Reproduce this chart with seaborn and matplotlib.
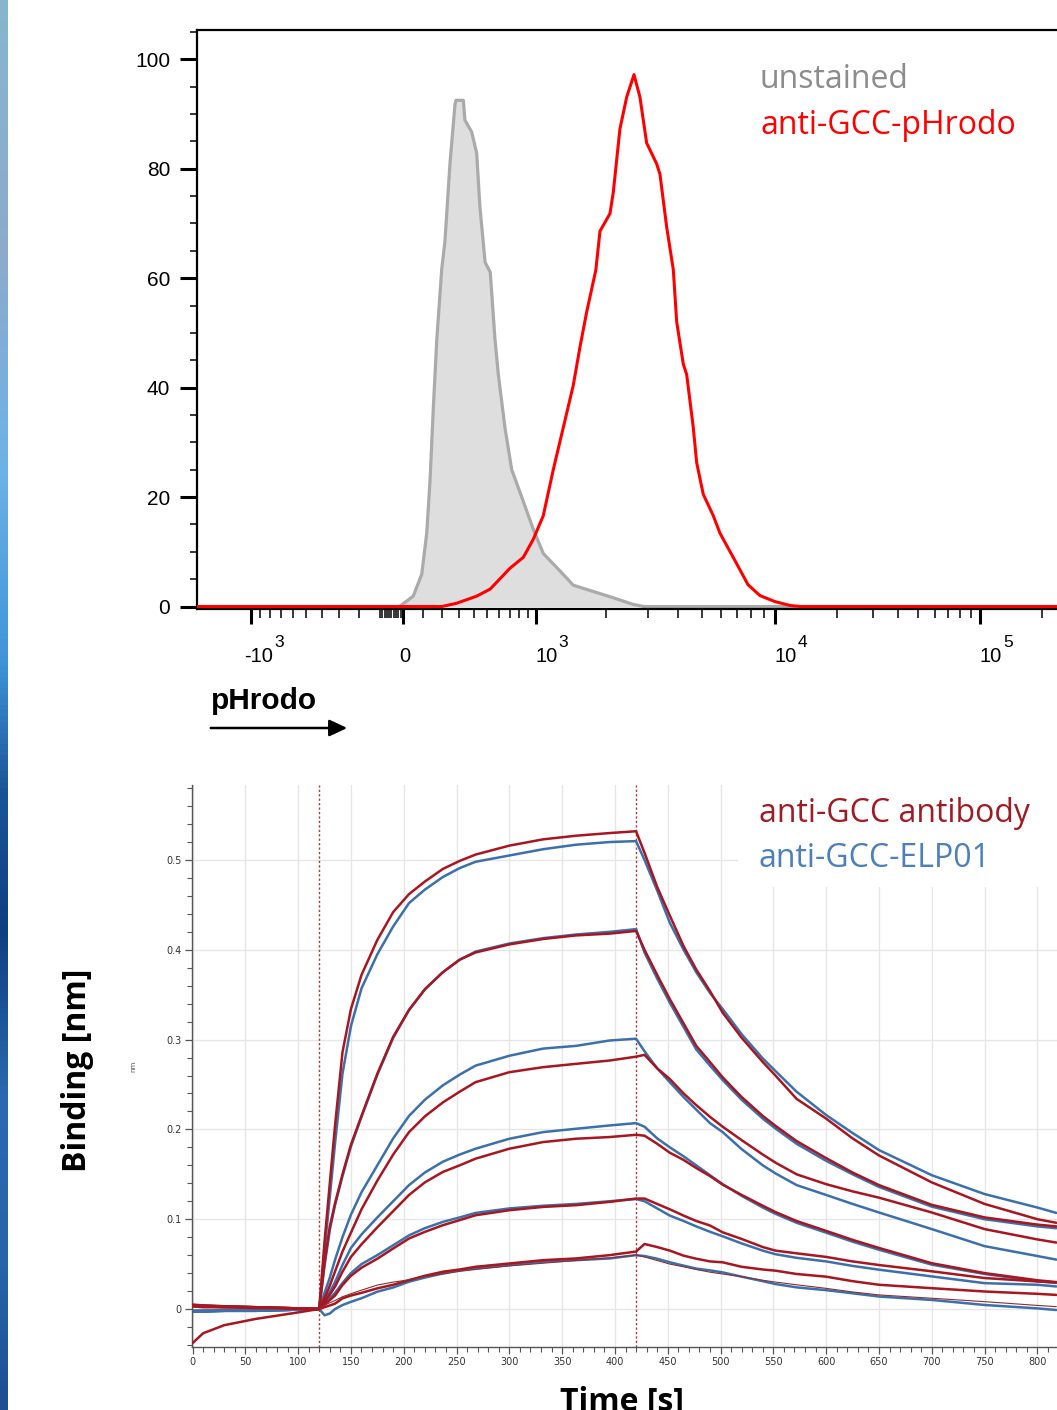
import numpy as np
import pandas as pd
import matplotlib
matplotlib.use("Agg")
import matplotlib.pyplot as plt
import seaborn as sns
from matplotlib import transforms
from matplotlib.colors import LinearSegmentedColormap
from matplotlib.patches import FancyArrowPatch, Rectangle
from matplotlib.ticker import FixedLocator, MultipleLocator, NullFormatter, FuncFormatter

sns.set_theme(style="ticks")
plt.rcParams['font.family'] = ['Liberation Sans', 'DejaVu Sans']

# ---------------- DATA: flow cytometry histogram (pHrodo channel, % of max) ----------------
unstained_fl = [-5000, -15, 51, 94, 120, 137, 154, 173, 200, 218, 247, 277, 283, 329, 339,
                385, 420, 443, 483, 524, 564, 593, 654, 721, 848, 971, 1082, 1279, 1457,
                1816, 2149, 2595, 2884, 300000]
unstained_pct = [0, 0, 1.9, 5.9, 13.5, 23.1, 36.0, 48.8, 61.6, 66.7, 80.9, 91.8, 92.5, 92.5, 88.9,
                 86.7, 82.8, 73.2, 62.9, 61.1, 48.8, 42.4, 32.7, 25.0, 19.2, 14.1, 9.7, 6.5, 3.9,
                 2.6, 1.6, 0.4, 0, 0]
phrodo_fl = [-5000, 200, 287, 420, 524, 703, 848, 971, 1082, 1196, 1343, 1457, 1556, 1661, 1816,
             1890, 2081, 2149, 2291, 2444, 2621, 2774, 2958, 3254, 3358, 3581, 3812, 3938, 4193,
             4329, 4610, 4760, 5068, 5573, 5937, 6845, 7741, 8672, 10000, 11840, 13240, 300000]
phrodo_pct = [0, 0, 0.6, 1.9, 3.2, 7.0, 9.0, 12.3, 16.6, 25.0, 34.0, 40.4, 47.4, 53.8, 61.5,
              68.6, 71.8, 75.7, 87.3, 93.1, 97.2, 93.1, 84.7, 80.9, 79.0, 69.3, 61.6, 52.0, 44.3,
              42.4, 32.7, 26.3, 20.5, 16.6, 13.4, 8.4, 4.0, 2.0, 0.9, 0.2, 0, 0]
hist_yticks = [0, 20, 40, 60, 80, 100]
hist_xticks_major = [-1000, 0, 1000, 10000, 100000]
hist_xtick_base = ["-10", "0", "10", "10", "10"]
hist_xtick_exp = ["3", "", "3", "4", "5"]
hist_legend = ["unstained", "anti-GCC-pHrodo"]

# ---------------- DATA: BLI sensorgram (binding in nm) ----------------
time_s = [0, 10, 30, 60, 90, 120,
          125, 130, 135, 142, 150, 160, 175, 190, 205, 220, 237, 253, 268, 300, 332, 363, 395, 420,
          428, 440, 452, 465, 477, 490, 502, 520, 540, 552, 572, 600, 625, 650, 700, 750, 800, 818]
ab_1 = [0.003, 0.002, 0.002, 0.001, 0.001, 0.0,
        0.075, 0.14, 0.205, 0.286, 0.334, 0.372, 0.411, 0.442, 0.462, 0.476, 0.49, 0.499, 0.506, 0.516, 0.523, 0.527, 0.53, 0.532,
        0.508, 0.470, 0.438, 0.404, 0.378, 0.354, 0.330, 0.302, 0.275, 0.260, 0.234, 0.212, 0.19, 0.171, 0.141, 0.117, 0.100, 0.096]
elp_1 = [-0.002, -0.002, -0.002, -0.002, -0.001, 0.0,
         0.065, 0.125, 0.185, 0.262, 0.315, 0.357, 0.395, 0.426, 0.452, 0.467, 0.481, 0.491, 0.498, 0.505, 0.512, 0.517, 0.520, 0.521,
         0.500, 0.466, 0.430, 0.400, 0.375, 0.352, 0.334, 0.306, 0.279, 0.265, 0.242, 0.216, 0.196, 0.177, 0.149, 0.128, 0.113, 0.107]
ab_2 = [0.004, 0.004, 0.003, 0.002, 0.001, 0.0,
        0.052, 0.092, 0.118, 0.15, 0.183, 0.215, 0.262, 0.303, 0.333, 0.356, 0.375, 0.389, 0.397, 0.406, 0.412, 0.416, 0.418, 0.421,
        0.400, 0.372, 0.345, 0.318, 0.293, 0.275, 0.258, 0.236, 0.215, 0.204, 0.187, 0.168, 0.152, 0.138, 0.116, 0.102, 0.094, 0.092]
elp_2 = [-0.002, -0.002, -0.002, -0.001, -0.001, 0.0,
         0.048, 0.088, 0.116, 0.148, 0.181, 0.214, 0.261, 0.302, 0.333, 0.356, 0.375, 0.389, 0.398, 0.407, 0.413, 0.417, 0.420, 0.423,
         0.397, 0.368, 0.341, 0.314, 0.289, 0.271, 0.255, 0.233, 0.212, 0.201, 0.184, 0.165, 0.150, 0.136, 0.114, 0.100, 0.092, 0.090]
ab_3 = [0.003, 0.003, 0.002, 0.002, 0.001, 0.0,
        0.012, 0.026, 0.042, 0.064, 0.085, 0.111, 0.143, 0.172, 0.197, 0.2145, 0.230, 0.242, 0.2526, 0.2637, 0.2693, 0.273, 0.2767, 0.281,
        0.283, 0.268, 0.256, 0.240, 0.227, 0.214, 0.203, 0.188, 0.172, 0.163, 0.150, 0.139, 0.131, 0.124, 0.1075, 0.089, 0.0775, 0.074]
elp_3 = [-0.003, -0.002, -0.002, -0.002, -0.001, 0.0,
         0.018, 0.035, 0.055, 0.080, 0.105, 0.130, 0.160, 0.190, 0.215, 0.233, 0.249, 0.261, 0.271, 0.282, 0.290, 0.293, 0.299, 0.301,
         0.287, 0.268, 0.2525, 0.236, 0.222, 0.207, 0.197, 0.178, 0.160, 0.151, 0.138, 0.127, 0.117, 0.1075, 0.089, 0.070, 0.059, 0.055]
ab_4 = [-0.038, -0.027, -0.018, -0.011, -0.0056, 0.0,
        0.008, 0.016, 0.025, 0.0415, 0.058, 0.072, 0.091, 0.109, 0.127, 0.141, 0.1526, 0.160, 0.1674, 0.1785, 0.1859, 0.1896, 0.1915, 0.194,
        0.193, 0.184, 0.174, 0.166, 0.157, 0.148, 0.1385, 0.127, 0.115, 0.108, 0.098, 0.087, 0.077, 0.068, 0.051, 0.040, 0.032, 0.030]
elp_4 = [-0.003, -0.003, -0.002, -0.002, -0.001, 0.0,
         0.010, 0.019, 0.030, 0.049, 0.068, 0.083, 0.102, 0.120, 0.138, 0.152, 0.164, 0.172, 0.1785, 0.1896, 0.197, 0.2007, 0.2044, 0.207,
         0.203, 0.190, 0.180, 0.170, 0.160, 0.149, 0.139, 0.126, 0.113, 0.106, 0.096, 0.085, 0.075, 0.066, 0.0494, 0.039, 0.031, 0.029]
ab_5 = [0.004, 0.003, 0.003, 0.002, 0.001, 0.0,
        0.005, 0.010, 0.015, 0.0267, 0.037, 0.046, 0.056, 0.0674, 0.0785, 0.0859, 0.0933, 0.099, 0.1044, 0.110, 0.1137, 0.1156, 0.1193, 0.123,
        0.123, 0.117, 0.111, 0.104, 0.098, 0.093, 0.0854, 0.078, 0.069, 0.065, 0.062, 0.058, 0.053, 0.049, 0.042, 0.0345, 0.0307, 0.0296]
elp_5 = [-0.002, -0.002, -0.001, -0.001, 0.0, 0.0,
         0.006, 0.012, 0.018, 0.029, 0.040, 0.050, 0.060, 0.071, 0.082, 0.090, 0.097, 0.102, 0.107, 0.112, 0.115, 0.117, 0.120, 0.1225,
         0.120, 0.112, 0.104, 0.098, 0.092, 0.086, 0.081, 0.073, 0.065, 0.061, 0.057, 0.053, 0.048, 0.0438, 0.0363, 0.0288, 0.027, 0.0251]
ab_6 = [0.005, 0.004, 0.003, 0.002, 0.001, 0.0,
        0.002, 0.004, 0.006, 0.0119, 0.015, 0.018, 0.023, 0.027, 0.0322, 0.037, 0.0415, 0.044, 0.047, 0.0507, 0.0544, 0.0563, 0.060, 0.064,
        0.0724, 0.069, 0.065, 0.0594, 0.056, 0.053, 0.052, 0.047, 0.044, 0.0427, 0.039, 0.036, 0.031, 0.027, 0.0232, 0.0195, 0.0169, 0.0157]
elp_6 = [-0.003, -0.003, -0.002, -0.002, -0.001, 0.0,
         -0.007, -0.005, 0.0, 0.0044, 0.008, 0.012, 0.0193, 0.024, 0.0304, 0.035, 0.0396, 0.043, 0.0452, 0.0489, 0.0526, 0.0544, 0.0563, 0.060,
         0.059, 0.056, 0.052, 0.0483, 0.045, 0.043, 0.0408, 0.036, 0.031, 0.0278, 0.0241, 0.021, 0.0175, 0.0139, 0.0101, 0.0045, 0.0007, -0.0011]
fit_time = time_s[5:]
fit_6 = [0.0,
         0.004, 0.007, 0.0095, 0.0137, 0.017, 0.021, 0.0267, 0.030, 0.0325, 0.036, 0.039, 0.042, 0.044, 0.048, 0.051, 0.054, 0.057, 0.060,
         0.058, 0.054, 0.050, 0.047, 0.044, 0.041, 0.039, 0.036, 0.032, 0.030, 0.027, 0.023, 0.019, 0.0157, 0.012, 0.0082, 0.004, 0.0026]
phase_marks_s = [120, 420]
bli_legend = ["anti-GCC antibody", "anti-GCC-ELP01"]

# ---------------- styles ----------------
W_PX, H_PX = 1057, 1410
RED_AB = "#a8161f"
BLUE_ELP = "#3b70ad"
TICK_FONT = ['Liberation Sans Narrow', 'Liberation Sans', 'DejaVu Sans']
LEG_FONT = ['Open Sans', 'DejaVu Sans']


def fx(px):
    return px / W_PX


def fy(py):
    return 1 - py / H_PX


# biexponential-like display scale for the fluorescence axis
_W = 400.0
_anch_v = np.arcsinh(np.array([-1e4, -1e3, 0.0, 1e3, 1e4, 1e5, 1e6]) / _W)
_anch_p = np.array([42.0, 251.0, 403.0, 535.5, 775.0, 980.0, 1185.0])


def fwd(x):
    return np.interp(np.arcsinh(np.asarray(x, dtype=float) / _W), _anch_v, _anch_p)


def inv(p):
    return _W * np.sinh(np.interp(np.asarray(p, dtype=float), _anch_p, _anch_v))


fig = plt.figure(figsize=(W_PX / 100, H_PX / 100), dpi=100)
fig.patch.set_facecolor("white")

# left decorative strip
ax_s = fig.add_axes([0, 0, 8 / W_PX, 1])
strip_cmap = LinearSegmentedColormap.from_list(
    "strip", [(0.0, "#86b6cf"), (0.18, "#8eaacb"), (0.33, "#6db3e6"), (0.47, "#3f94d8"),
              (0.56, "#1a5599"), (0.66, "#0f3f80"), (0.78, "#2a6ab0"), (0.9, "#2764aa"), (1.0, "#1d4f92")])
ax_s.imshow(np.linspace(0, 1, 256).reshape(-1, 1), aspect="auto", cmap=strip_cmap)
ax_s.axis("off")

# ---------------- top panel: histogram ----------------
ax1 = fig.add_axes([fx(197), fy(609), fx(1100) - fx(197), (609 - 30) / H_PX])
ax1.set_xscale("function", functions=(fwd, inv))
ax1.fill_between(unstained_fl, unstained_pct, 0, color="#dedede", lw=0, zorder=1)
sns.lineplot(x=unstained_fl, y=unstained_pct, ax=ax1, color="#aaaaaa", lw=2.3, zorder=2)
sns.lineplot(x=phrodo_fl, y=phrodo_pct, ax=ax1, color="#ff0000", lw=2.2, zorder=3)
ax1.set_xlim(float(inv(197)), float(inv(1100)))
ax1.set_ylim(-0.45, 105.35)
ax1.set_xlabel("")
ax1.set_ylabel("")
for s in ["top", "left", "bottom"]:
    ax1.spines[s].set_color("black")
    ax1.spines[s].set_linewidth(1.6)
ax1.spines["right"].set_visible(False)

ax1.set_yticks(hist_yticks)
ax1.yaxis.set_minor_locator(MultipleLocator(5))
ax1.tick_params(axis="y", which="major", direction="out", length=12.2, width=2.2, pad=7,
                labelsize=15, left=True, colors="black")
ax1.tick_params(axis="y", which="minor", direction="out", length=5, width=1.1, left=True, colors="black")
for lab in ax1.get_yticklabels():
    lab.set_fontfamily(TICK_FONT)

minor_x = (list(range(-900, 0, 100)) + list(range(-90, 0, 10)) + list(range(100, 1000, 100))
           + list(range(2000, 10000, 1000)) + list(range(20000, 100000, 10000)) + [200000])
ax1.xaxis.set_major_locator(FixedLocator(hist_xticks_major))
ax1.xaxis.set_minor_locator(FixedLocator(minor_x))
ax1.xaxis.set_major_formatter(NullFormatter())
ax1.xaxis.set_minor_formatter(NullFormatter())
ax1.tick_params(axis="x", which="major", direction="out", length=10.8, width=2.2, bottom=True, colors="black")
ax1.tick_params(axis="x", which="minor", direction="out", length=6.3, width=1.1, bottom=True, colors="black")

blend = transforms.blended_transform_factory(ax1.transData, ax1.transAxes)
for val, base, ex in zip(hist_xticks_major, hist_xtick_base, hist_xtick_exp):
    if ex:
        tb = transforms.offset_copy(blend, fig=fig, x=22, y=-53, units="dots")
        ax1.text(val, 0, base, transform=tb, ha="right", va="baseline", fontsize=14.5,
                 family=TICK_FONT, color="black")
        te = transforms.offset_copy(blend, fig=fig, x=23, y=-38, units="dots")
        ax1.text(val, 0, ex, transform=te, ha="left", va="baseline", fontsize=12.5,
                 family=TICK_FONT, color="black")
    else:
        tb = transforms.offset_copy(blend, fig=fig, x=1.5, y=-53, units="dots")
        ax1.text(val, 0, base, transform=tb, ha="center", va="baseline", fontsize=14.5,
                 family=TICK_FONT, color="black")

fig.text(fx(760), fy(88), hist_legend[0], color="#8c8c8c", fontsize=23, family=LEG_FONT, va="baseline")
fig.text(fx(760), fy(134), hist_legend[1], color="#ff0000", fontsize=23, family=LEG_FONT, va="baseline")

fig.text(fx(211), fy(709), "pHrodo", fontsize=21.5, fontweight="bold", family=['Liberation Sans', 'DejaVu Sans'],
         ha="left", va="baseline", color="black")
arrow = FancyArrowPatch((fx(208), fy(728)), (fx(350), fy(728)), transform=fig.transFigure,
                        arrowstyle="-|>,head_length=0.9,head_width=0.42", mutation_scale=12,
                        lw=1.8, color="black")
fig.add_artist(arrow)

# ---------------- bottom panel: BLI sensorgram ----------------
ax2 = fig.add_axes([fx(192), fy(1347), fx(1057) - fx(192), (1347 - 785) / H_PX])
ax2.set_xlim(-0.5, 818.6)
ax2.set_ylim(-0.0423, 0.5835)
ax2.set_axisbelow(True)
ax2.grid(True, color="#e6e6e6", lw=1.0)

rows = []
for name, vals in [("elp_1", elp_1), ("elp_2", elp_2), ("elp_3", elp_3), ("elp_4", elp_4),
                   ("elp_5", elp_5), ("elp_6", elp_6)]:
    rows.append(pd.DataFrame({"time": time_s, "binding": vals, "curve": name}))
df_elp = pd.concat(rows, ignore_index=True)
rows = []
for name, vals in [("ab_1", ab_1), ("ab_2", ab_2), ("ab_3", ab_3), ("ab_4", ab_4),
                   ("ab_5", ab_5), ("ab_6", ab_6)]:
    rows.append(pd.DataFrame({"time": time_s, "binding": vals, "curve": name}))
df_ab = pd.concat(rows, ignore_index=True)

sns.lineplot(data=df_elp, x="time", y="binding", units="curve", estimator=None, color=BLUE_ELP,
             lw=1.8, ax=ax2, legend=False, zorder=2)
sns.lineplot(data=df_ab, x="time", y="binding", units="curve", estimator=None, color=RED_AB,
             lw=1.8, ax=ax2, legend=False, zorder=3)
sns.lineplot(x=fit_time, y=fit_6, ax=ax2, color="#8a3030", lw=0.8, zorder=4)

for t in phase_marks_s:
    ax2.axvline(t, color="#a83a3a", lw=1.0, ls=(0, (1.6, 1.6)), zorder=1.5)

ax2.add_patch(Rectangle((516.5, 0.47), 310, 0.2, facecolor="white", edgecolor="none", zorder=0.9))

ax2.set_xlabel("")
ax2.set_ylabel("")
for s in ["top", "right"]:
    ax2.spines[s].set_visible(False)
for s in ["left", "bottom"]:
    ax2.spines[s].set_color("#555555")
    ax2.spines[s].set_linewidth(1.0)
ax2.set_xticks(np.arange(0, 801, 50))
ax2.xaxis.set_minor_locator(MultipleLocator(10))
ax2.set_yticks([0, 0.1, 0.2, 0.3, 0.4, 0.5])
ax2.yaxis.set_minor_locator(MultipleLocator(0.02))
ax2.yaxis.set_major_formatter(FuncFormatter(lambda v, p: "0" if abs(v) < 1e-9 else f"{v:.1f}"))
ax2.tick_params(axis="both", which="major", direction="out", length=5, width=0.9, colors="#555555",
                labelcolor="#333333", labelsize=7, pad=2.5, left=True, bottom=True)
ax2.tick_params(axis="both", which="minor", direction="out", length=3.5, width=0.8, colors="#555555",
                left=True, bottom=True)
for lab in ax2.get_xticklabels() + ax2.get_yticklabels():
    lab.set_fontfamily(['DejaVu Sans'])

fig.text(fx(759), fy(822), bli_legend[0], color="#a01c24", fontsize=23, family=LEG_FONT, va="baseline")
fig.text(fx(759), fy(867), bli_legend[1], color="#4b7fbd", fontsize=23, family=LEG_FONT, va="baseline")

fig.text(fx(77), fy(1070), "Binding [nm]", rotation=90, ha="center", va="center", fontsize=23,
         fontweight="bold", family=LEG_FONT, color="black")
fig.text(fx(133), fy(1066), "nm", rotation=90, ha="center", va="center", fontsize=5, color="#555555",
         family=['DejaVu Sans'])
fig.text(fx(622), fy(1386), "Time [s]", ha="center", va="top", fontsize=23, fontweight="bold",
         family=LEG_FONT, color="black")

fig.savefig("out.png", dpi=100, facecolor="white")
